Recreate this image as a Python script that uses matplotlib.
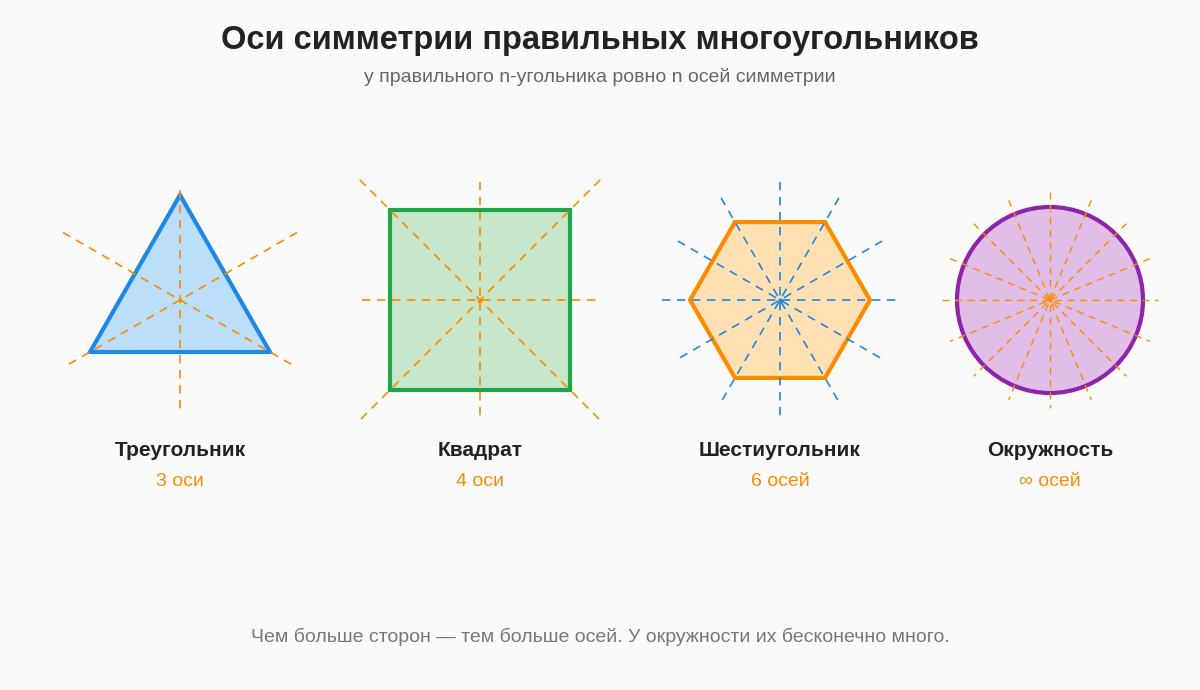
import numpy as np
import matplotlib.pyplot as plt
from matplotlib.patches import Polygon, Circle

plt.rcParams['font.family'] = ['Liberation Sans', 'DejaVu Sans']

# ---- data ----
names = ["Треугольник", "Квадрат", "Шестиугольник", "Окружность"]
axes_labels = ["3 оси", "4 оси", "6 осей", "∞ осей"]
centers_x = [180, 480, 780, 1050]
center_y = 300
n_sides = [3, 4, 6, None]
axis_angles = [
    [90, 30, 150],
    [0, 90, 45, 135],
    [0, 30, 60, 90, 120, 150],
    [0, 22.5, 45, 67.5, 90, 112.5, 135, 157.5],
]
axis_len = [[110, 135, 135], [118, 118, 170, 170], [118] * 6, [108] * 8]
fills = ["#bbdefb", "#c8e6c9", "#ffe0b2", "#e1bee7"]
edges = ["#1e88e5", "#1fa64a", "#fb8c00", "#8e24aa"]
dash_colors = ["#fb8c00", "#fb8c00", "#1e88e5", "#fb8c00"]

fig = plt.figure(figsize=(12, 6.9), dpi=100)
fig.patch.set_facecolor("#fafafa")
ax = fig.add_axes([0, 0, 1, 1])
ax.set_xlim(0, 1200)
ax.set_ylim(690, 0)
ax.axis("off")

for i, cx in enumerate(centers_x):
    if n_sides[i] == 3:
        pts = [(180, 195), (90, 352), (270, 352)]
        shape = Polygon(pts, closed=True)
    elif n_sides[i] == 4:
        pts = [(390, 210), (570, 210), (570, 390), (390, 390)]
        shape = Polygon(pts, closed=True)
    elif n_sides[i] == 6:
        a = np.radians(np.arange(0, 360, 60))
        pts = np.column_stack([cx + 90 * np.cos(a), center_y + 90 * np.sin(a)])
        shape = Polygon(pts, closed=True)
    else:
        shape = Circle((cx, center_y), 93)
    shape.set_facecolor(fills[i])
    shape.set_edgecolor(edges[i])
    shape.set_linewidth(3)
    shape.set_zorder(2)
    ax.add_patch(shape)

    lw = 1.0 if n_sides[i] is None else 1.2
    for ang, L in zip(axis_angles[i], axis_len[i]):
        r = np.radians(ang)
        dx, dy = L * np.cos(r), L * np.sin(r)
        ax.plot([cx - dx, cx + dx], [center_y - dy, center_y + dy],
                color=dash_colors[i], lw=lw, ls=(0, (5, 4)), zorder=3)
    ax.plot(cx, center_y, "o", color=dash_colors[i], ms=2, zorder=4)

    ax.text(cx, 451, names[i], ha="center", va="center", fontsize=15,
            fontweight="bold", color="#222222")
    ax.text(cx, 481, axes_labels[i], ha="center", va="center", fontsize=14,
            color="#fb8c00")

ax.text(600, 40, "Оси симметрии правильных многоугольников", ha="center",
        va="center", fontsize=23.5, fontweight="bold", color="#222222")
ax.text(600, 77, "у правильного n-угольника ровно n осей симметрии", ha="center",
        va="center", fontsize=14, color="#666666")
ax.text(600, 637, "Чем больше сторон — тем больше осей. У окружности их бесконечно много.",
        ha="center", va="center", fontsize=14, color="#777777")

fig.savefig("out.png", dpi=100, facecolor=fig.get_facecolor())
